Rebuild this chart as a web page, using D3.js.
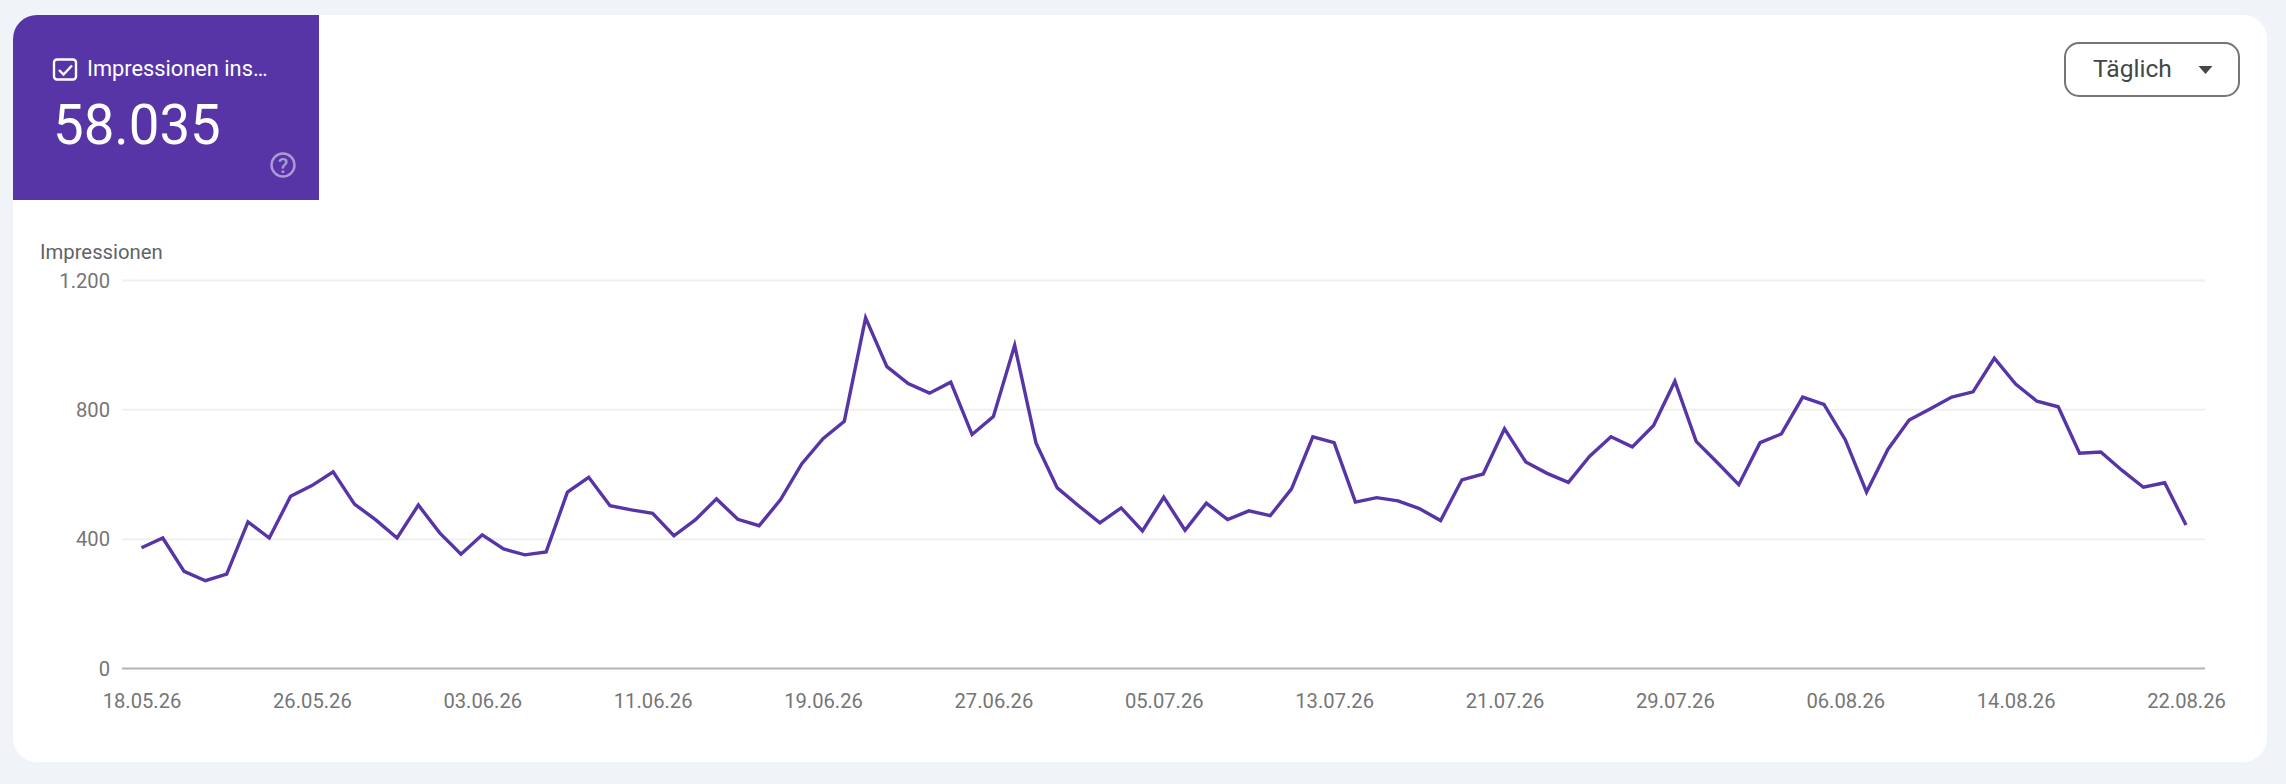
<!DOCTYPE html>
<html>
<head>
<meta charset="utf-8">
<script src="https://cdn.jsdelivr.net/npm/d3@7"></script>
<style>
    html, body { margin: 0; padding: 0; background: #f0f4f9; }
    svg { display: block; }
    text { font-family: Roboto, sans-serif; }
</style>
</head>
<body>
<svg id="board" width="2286" height="784"></svg>
<script>
// Daily impressions
let startDate = '18.05.26'
let impressions = [
    372, 402, 299, 270, 290, 452, 402, 531, 564, 607,
    507, 458, 402, 504, 418, 352, 412, 368, 350, 359,
    544, 590, 502, 489, 478, 409, 458, 523, 460, 440,
    520, 631, 709, 763, 1083, 932, 880, 850, 884, 722,
    778, 998, 696, 557, 502, 449, 495, 424, 528, 426,
    510, 459, 486, 471, 554, 715, 697, 513, 527, 517,
    493, 456, 582, 600, 740, 637, 602, 574, 655, 715,
    684, 750, 887, 701, 635, 567, 697, 724, 838, 815,
    706, 544, 676, 767, 802, 838, 854, 958, 878, 825,
    808, 664, 668, 611, 559, 573, 442
]

// Axis ticks
let yTicks = [0, 400, 800, 1200]
let xTickLabels = [
    '18.05.26', '26.05.26', '03.06.26', '11.06.26', '19.06.26', '27.06.26', '05.07.26',
    '13.07.26', '21.07.26', '29.07.26', '06.08.26', '14.08.26', '22.08.26'
]

// Texts
let metricLabel = 'Impressionen ins…'
let metricValue = '58.035'
let axisTitle = 'Impressionen'
let periodLabel = 'Täglich'

let purple = '#5735a7'
let board = d3.select('#board')

let parseDate = d3.utcParse('%d.%m.%y')
let formatDate = d3.utcFormat('%d.%m.%y')
let germanFormat = d3.formatLocale({ decimal: ',', thousands: '.', grouping: [3], currency: ['', '€'] }).format(',d')

let data = impressions.map((value, i) => {
    return { date: d3.utcDay.offset(parseDate(startDate), i), value: value }
})

// Card with the clipped metric tile
let drawCard = () => {
    board.append('clipPath')
        .attr('id', 'cardClip')
        .append('rect')
        .attr('x', 13).attr('y', 15)
        .attr('width', 2254).attr('height', 747)
        .attr('rx', 24)

    board.append('rect')
        .attr('x', 13).attr('y', 15)
        .attr('width', 2254).attr('height', 747)
        .attr('rx', 24)
        .attr('fill', '#ffffff')

    board.append('rect')
        .attr('x', 13).attr('y', 15)
        .attr('width', 306).attr('height', 185)
        .attr('fill', purple)
        .attr('clip-path', 'url(#cardClip)')

    // checkbox
    board.append('rect')
        .attr('x', 54).attr('y', 59.5)
        .attr('width', 22).attr('height', 20)
        .attr('rx', 3)
        .attr('fill', 'none')
        .attr('stroke', '#ffffff')
        .attr('stroke-width', 2.4)
    board.append('path')
        .attr('d', 'M59 70l4.5 4.5l8.5-9')
        .attr('fill', 'none')
        .attr('stroke', '#ffffff')
        .attr('stroke-width', 2.4)

    board.append('text')
        .attr('x', 87).attr('y', 76)
        .attr('font-size', 21.8)
        .attr('fill', '#ffffff')
        .text(metricLabel)

    board.append('text')
        .attr('x', 53).attr('y', 144)
        .attr('font-size', 54.6)
        .attr('fill', '#ffffff')
        .text(metricValue)

    // help icon
    let help = board.append('g').attr('opacity', 0.5)
    help.append('circle')
        .attr('cx', 283).attr('cy', 165).attr('r', 11.5)
        .attr('fill', 'none')
        .attr('stroke', '#ffffff')
        .attr('stroke-width', 2.4)
    help.append('text')
        .attr('x', 283).attr('y', 172.5)
        .attr('text-anchor', 'middle')
        .attr('font-size', 21)
        .attr('font-weight', 500)
        .attr('fill', '#ffffff')
        .text('?')

    // period dropdown
    board.append('rect')
        .attr('x', 2065).attr('y', 43)
        .attr('width', 174).attr('height', 53)
        .attr('rx', 14)
        .attr('fill', '#ffffff')
        .attr('stroke', '#747775')
        .attr('stroke-width', 2)
    board.append('text')
        .attr('x', 2093).attr('y', 77)
        .attr('font-size', 24.6)
        .attr('fill', '#444746')
        .text(periodLabel)
    board.append('path')
        .attr('d', 'M2198.5 66h14l-7 8z')
        .attr('fill', '#444746')
}

// Line chart with both axes
let drawChart = () => {
    let xScale = d3.scaleTime()
        .domain(d3.extent(data, (item) => item.date))
        .range([141.5, 2186])
    let yScale = d3.scaleLinear()
        .domain([0, 1200])
        .range([668, 280])

    let yAxis = d3.axisLeft(yScale)
        .tickValues(yTicks)
        .tickFormat(germanFormat)
        .tickSize(-(2205 - 122))
        .tickPadding(12)
    let yGroup = board.append('g')
        .attr('transform', 'translate(122,0)')
        .call(yAxis)
    yGroup.select('.domain').remove()
    yGroup.selectAll('.tick line')
        .attr('stroke', (d) => d === 0 ? '#b4b4b4' : '#f0f0f0')
        .attr('stroke-width', 2)
    yGroup.selectAll('.tick text')
        .attr('font-size', 20.2)
        .attr('font-family', 'Roboto, sans-serif')
        .attr('dy', '0.36em')
        .attr('fill', '#757575')

    let xAxis = d3.axisBottom(xScale)
        .tickValues(xTickLabels.map(parseDate))
        .tickFormat(formatDate)
        .tickSize(0)
        .tickPadding(26)
    let xGroup = board.append('g')
        .attr('transform', 'translate(0,668)')
        .call(xAxis)
    xGroup.select('.domain').remove()
    xGroup.selectAll('.tick text')
        .attr('font-size', 20.2)
        .attr('font-family', 'Roboto, sans-serif')
        .attr('fill', '#757575')

    board.append('text')
        .attr('x', 40).attr('y', 259)
        .attr('font-size', 20.3)
        .attr('fill', '#5f6368')
        .text(axisTitle)

    let line = d3.line()
        .x((item) => xScale(item.date))
        .y((item) => yScale(item.value))

    board.append('path')
        .datum(data)
        .attr('d', line)
        .attr('fill', 'none')
        .attr('stroke', '#5735a7')
        .attr('stroke-width', 3.4)
        .attr('stroke-linejoin', 'miter')
}

drawCard()
drawChart()
</script>
</body>
</html>
